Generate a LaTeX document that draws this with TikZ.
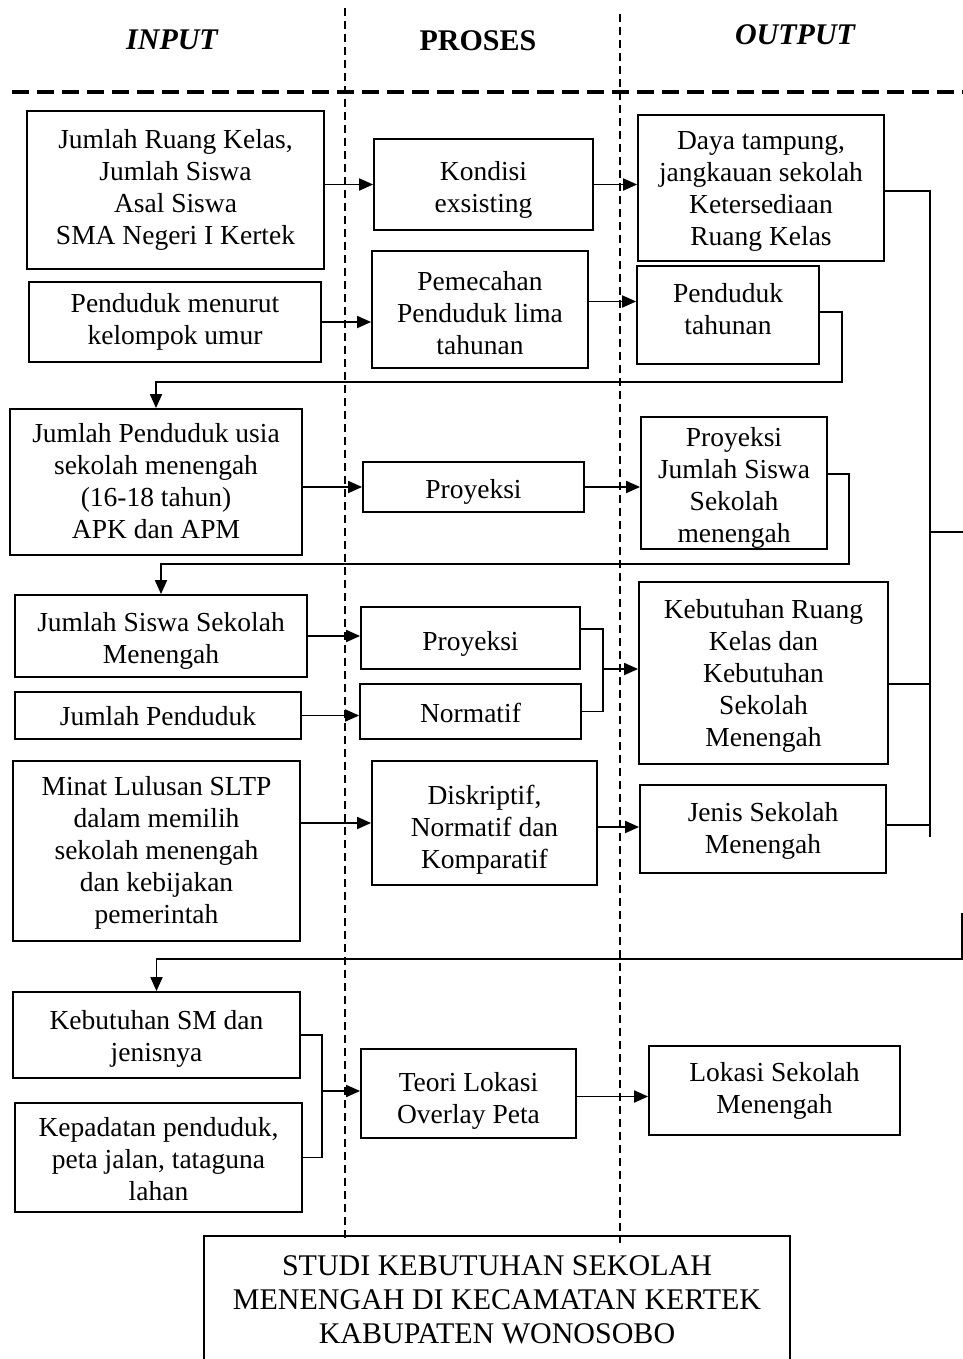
\documentclass[tikz,border=0pt]{standalone}
\usepackage{fontspec}
\setmainfont{Liberation Serif}
\usetikzlibrary{arrows.meta}
% centred lines of box text, lowered by the optional amount without changing the box size
\newcommand\bt[2][0pt]{\raisebox{-#1}[\height][\depth]{\begin{tabular}{@{}c@{}}#2\end{tabular}}}
\begin{document}
\begin{tikzpicture}[x=1pt,y=-1pt]
\tikzset{
  box/.style={draw, line width=1.8pt, align=center, inner sep=0pt,
    font=\fontsize{27.5}{32}\selectfont},
  conn/.style={line width=1.8pt},
  arr/.style={conn, -{Triangle[length=14pt,width=12pt]}},
  colsep/.style={line width=1.3pt, dash pattern=on 8pt off 5pt},
  headsep/.style={line width=4pt, dash pattern=on 17pt off 8pt},
  head/.style={font=\fontsize{30}{34}\selectfont\bfseries},
}
\fill[white] (0,0) rectangle (963,1359);
\useasboundingbox (0,0) rectangle (963,1359);

% column headings and separators
\node[head] (hin) at (172,40) {\itshape INPUT};
\node[head] (hpr) at (478,41) {PROSES};
\node[head] (hout) at (795,35) {\itshape OUTPUT};
\draw[colsep] (345,8) -- (345,1238);
\draw[colsep] (620,14) -- (620,1243);
\draw[headsep] (12,92) -- (963,92);

% input column
\node[box, minimum width=297pt, minimum height=158pt] (a) at (175.5,190)
  {\bt{Jumlah Ruang Kelas,\\Jumlah Siswa\\Asal Siswa\\SMA Negeri I Kertek}};
\node[box, minimum width=292pt, minimum height=80pt] (pm) at (175,322)
  {\bt{Penduduk menurut\\kelompok umur}};
\node[box, minimum width=292pt, minimum height=146pt] (jp) at (156,482)
  {\bt[2pt]{Jumlah Penduduk usia\\sekolah menengah\\(16-18 tahun)\\APK dan APM}};
\node[box, minimum width=292pt, minimum height=82pt] (jssm) at (161,636)
  {\bt[5pt]{Jumlah Siswa Sekolah\\Menengah}};
\node[box, minimum width=286pt, minimum height=47pt] (jpd) at (158,715.5)
  {\bt[4pt]{Jumlah Penduduk}};
\node[box, minimum width=287pt, minimum height=180pt] (mi) at (156.5,851)
  {\bt[2pt]{Minat Lulusan SLTP\\dalam memilih\\sekolah menengah\\dan kebijakan\\pemerintah}};
\node[box, minimum width=287pt, minimum height=86pt] (ksm) at (156.5,1035)
  {\bt[4pt]{Kebutuhan SM dan\\jenisnya}};
\node[box, minimum width=287pt, minimum height=109pt] (kep) at (158.5,1157.5)
  {\bt[5pt]{Kepadatan penduduk,\\peta jalan, tataguna\\lahan}};

% process column
\node[box, minimum width=219pt, minimum height=91pt] (ko) at (483.5,184.5)
  {\bt[6pt]{Kondisi\\exsisting}};
\node[box, minimum width=216pt, minimum height=117pt] (pem) at (480,309.5)
  {\bt[7pt]{Pemecahan\\Penduduk lima\\tahunan}};
\node[box, minimum width=221pt, minimum height=50pt] (pr1) at (473.5,487)
  {\bt[5pt]{Proyeksi}};
\node[box, minimum width=219pt, minimum height=62pt] (p2) at (470.5,638)
  {\bt[6pt]{Proyeksi}};
\node[box, minimum width=221pt, minimum height=55pt] (nm) at (470.5,711.5)
  {\bt[5pt]{Normatif}};
\node[box, minimum width=225pt, minimum height=124pt] (di) at (484.5,823)
  {\bt[7pt]{Diskriptif,\\Normatif dan\\Komparatif}};
\node[box, minimum width=215pt, minimum height=89pt] (te) at (468.5,1093.5)
  {\bt[8pt]{Teori Lokasi\\Overlay Peta}};

% output column
\node[box, minimum width=246pt, minimum height=146pt] (daya) at (761,188)
  {\bt[3pt]{Daya tampung,\\jangkauan sekolah\\Ketersediaan\\Ruang Kelas}};
\node[box, minimum width=182pt, minimum height=98pt] (pt) at (728,315)
  {\bt[-3pt]{Penduduk\\tahunan}};
\node[box, minimum width=186pt, minimum height=132pt] (pjs) at (734,483)
  {\bt[5pt]{Proyeksi\\Jumlah Siswa\\Sekolah\\menengah}};
\node[box, minimum width=249pt, minimum height=182pt] (kr) at (763.5,673)
  {\bt[3pt]{Kebutuhan Ruang\\Kelas dan\\Kebutuhan\\Sekolah\\Menengah}};
\node[box, minimum width=246pt, minimum height=88pt] (je) at (763,829)
  {\bt[2pt]{Jenis Sekolah\\Menengah}};
\node[box, minimum width=251pt, minimum height=89pt] (lo) at (774.5,1090.5)
  {\bt[1pt]{Lokasi Sekolah\\Menengah}};

% title
\node[box, font=\fontsize{30}{34}\selectfont, minimum width=586pt, minimum height=128pt]
  (title) at (497,1300)
  {STUDI KEBUTUHAN SEKOLAH\\MENENGAH DI KECAMATAN KERTEK\\KABUPATEN WONOSOBO};

% straight flows
\draw[arr] (a.east |- ko.west) -- (ko.west);
\draw[arr] (ko.east) -- (ko.east -| daya.west);
\draw[arr] (pm.east) -- (pm.east -| pem.west);
\draw[arr] ([yshift=8pt]pem.east) -- ([yshift=8pt]pem.east -| pt.west);
\draw[arr] (jp.east |- pr1.west) -- (pr1.west);
\draw[arr] (pr1.east) -- (pr1.east -| pjs.west);
\draw[arr] (jssm.east) -- (jssm.east -| p2.west);
\draw[arr] (jpd.east) -- (jpd.east -| nm.west);
\draw[arr] (mi.east |- di.west) -- (di.west);
\draw[arr] ([yshift=-4pt]di.east) -- ([yshift=-4pt]di.east -| je.west);
\draw[arr] ([yshift=-3pt]te.east) -- ([yshift=-3pt]te.east -| lo.west);

% joined flows
\coordinate (j1) at (603,669);
\draw[conn] ([yshift=9pt]p2.east) -| (j1) |- (nm.east);
\draw[arr] (j1) -- (j1 -| kr.west);
\coordinate (j2) at (322,1091);
\draw[conn] (ksm.east) -| (j2) |- (kep.east);
\draw[arr] (j2) -- (j2 -| te.west);

% loops back to the input column
\coordinate (l1) at (842,382);
\draw[arr] ([yshift=3pt]pt.east) -| (l1) -| (jp.north);
\coordinate (l2) at (849,564);
\draw[arr] ([yshift=9pt]pjs.east) -| (l2) -| (jssm.north);

% collecting line on the right
\coordinate (bus) at (930,837);
\draw[conn] ([yshift=-3pt]daya.east) -| (bus);
\draw[conn] ([yshift=-11pt]kr.east) -- ([yshift=-11pt]kr.east -| bus);
\draw[conn] ([yshift=4pt]je.east) -- ([yshift=4pt]je.east -| bus);
\coordinate (busout) at (963,532);
\draw[conn] (busout -| bus) -- (busout);
\coordinate (back) at (962,913);
\draw[arr] (back) |- (ksm.north |- 0,959) -- (ksm.north);
\end{tikzpicture}
\end{document}
